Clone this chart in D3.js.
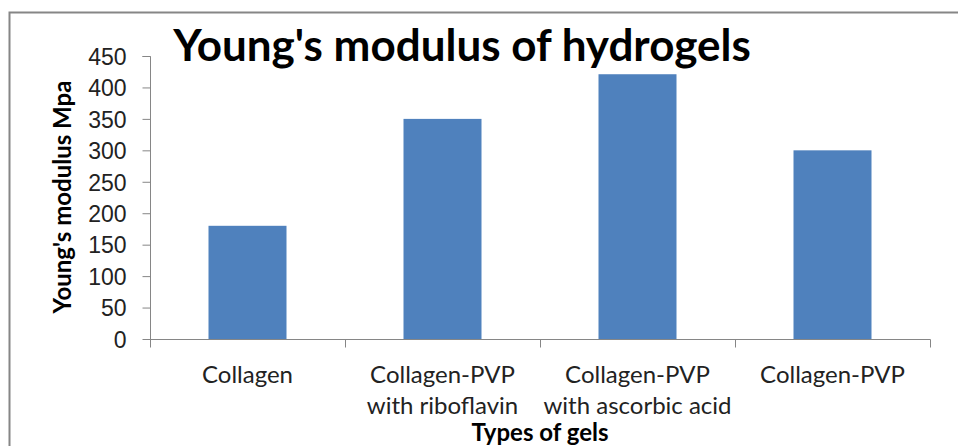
<!DOCTYPE html>
<html>
<head>
<meta charset="utf-8">
<script src="https://cdn.jsdelivr.net/npm/d3@7"></script>
<style>
  body { margin: 0; background: #fff; }
  svg { display: block; font-family: Lato, 'Open Sans', sans-serif; }
</style>
</head>
<body>
<div id="chart"></div>
<script>
const categories = [
  ['Collagen'],
  ['Collagen-PVP', 'with riboflavin'],
  ['Collagen-PVP', 'with ascorbic acid'],
  ['Collagen-PVP']
];
const modulus = [180, 350, 421, 300];
const yTicks = [0, 50, 100, 150, 200, 250, 300, 350, 400, 450];

const width = 958;
const height = 446;

const svg = d3.select('#chart').append('svg')
  .attr('width', width)
  .attr('height', height);

// outer chart frame (right/bottom edges fall outside the picture)
svg.append('rect')
  .attr('x', 9.5)
  .attr('y', 12.5)
  .attr('width', 1000)
  .attr('height', 500)
  .attr('fill', 'none')
  .attr('stroke', '#868686')
  .attr('stroke-width', 2);

const x = d3.scaleBand()
  .domain(d3.range(categories.length))
  .range([150, 930])
  .paddingInner(0.6)
  .paddingOuter(0.3);

const y = d3.scaleLinear()
  .domain([0, 450])
  .range([339, 56]);

// y axis
const yAxis = svg.append('g')
  .attr('transform', 'translate(150.5,0)')
  .call(d3.axisLeft(y).tickValues(yTicks).tickSize(8).tickPadding(16));
yAxis.select('.domain').attr('stroke', '#868686').attr('d', 'M-8,56.5H0V339.5');
yAxis.selectAll('.tick line').attr('stroke', '#868686');
yAxis.selectAll('.tick text')
  .attr('fill', '#222')
  .style('font-size', '23px')
  .attr('dy', '0.36em');

// bars
svg.selectAll('rect.bar')
  .data(modulus)
  .enter()
  .append('rect')
  .attr('class', 'bar')
  .attr('x', (d, i) => x(i))
  .attr('width', x.bandwidth())
  .attr('y', (d) => y(d))
  .attr('height', (d) => y(0) - y(d))
  .style('fill', '#4f81bd');

// x axis with boundary ticks
const xAxis = svg.append('g').attr('transform', 'translate(0,339.5)');
xAxis.append('line')
  .attr('x1', 150).attr('x2', 930.5)
  .attr('stroke', '#868686');
const bounds = d3.range(categories.length + 1).map((i) => 150 + i * x.step());
xAxis.selectAll('line.tick')
  .data(bounds)
  .enter()
  .append('line')
  .attr('class', 'tick')
  .attr('x1', (d) => Math.round(d) + 0.5)
  .attr('x2', (d) => Math.round(d) + 0.5)
  .attr('y1', 0)
  .attr('y2', 8)
  .attr('stroke', '#868686');

const labels = svg.selectAll('text.cat')
  .data(categories)
  .enter()
  .append('text')
  .attr('class', 'cat')
  .attr('text-anchor', 'middle')
  .attr('fill', '#222')
  .style('font-size', '24px');
labels.selectAll('tspan')
  .data((d, i) => d.map((t) => ({ t, i })))
  .enter()
  .append('tspan')
  .attr('x', (d) => x(d.i) + x.bandwidth() / 2)
  .attr('y', (d, j) => 383 + j * 31)
  .text((d) => d.t);

// titles
svg.append('text')
  .attr('x', 462)
  .attr('y', 61)
  .attr('text-anchor', 'middle')
  .style('font-size', '44px')
  .style('font-weight', 'bold')
  .text("Young's modulus of hydrogels");

svg.append('text')
  .attr('transform', 'translate(71,197) rotate(-90)')
  .attr('text-anchor', 'middle')
  .style('font-size', '24px')
  .style('font-weight', 'bold')
  .text("Young's modulus Mpa");

svg.append('text')
  .attr('x', 540)
  .attr('y', 441)
  .attr('text-anchor', 'middle')
  .style('font-size', '24px')
  .style('font-weight', 'bold')
  .text('Types of gels');
</script>
</body>
</html>
